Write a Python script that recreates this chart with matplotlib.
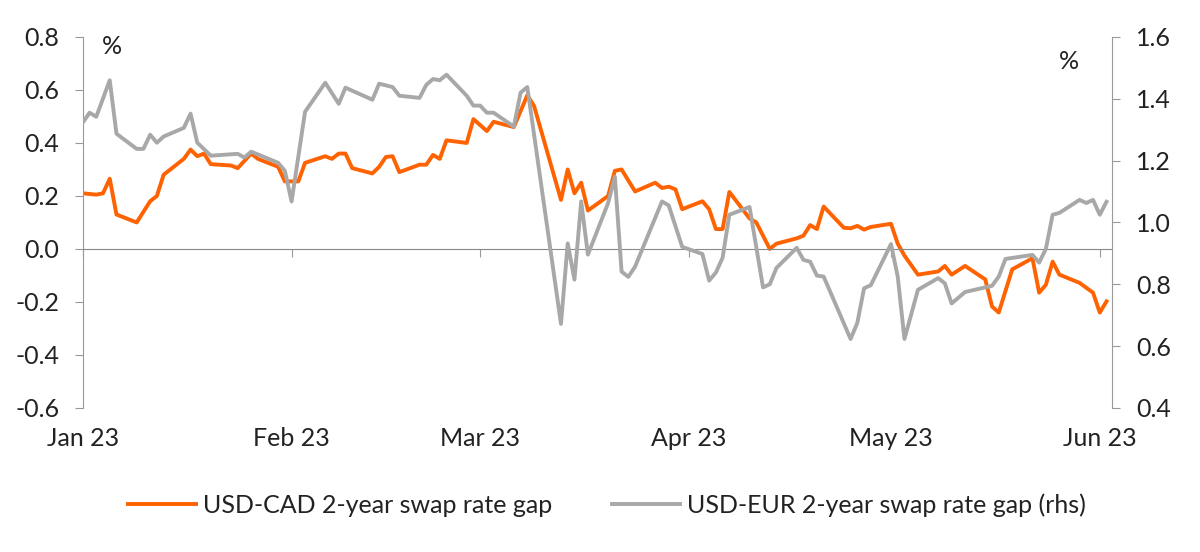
import pandas as pd
import matplotlib.pyplot as plt
import matplotlib.dates as mdates

# USD-CAD 2y swap gap (lhs)
cad_dates = ["2023-01-01", "2023-01-03", "2023-01-04", "2023-01-05", "2023-01-06", "2023-01-09",
             "2023-01-11", "2023-01-12", "2023-01-13", "2023-01-16", "2023-01-17", "2023-01-18",
             "2023-01-19", "2023-01-20", "2023-01-23", "2023-01-24", "2023-01-26", "2023-01-27",
             "2023-01-30", "2023-01-31", "2023-02-02", "2023-02-03", "2023-02-06", "2023-02-07",
             "2023-02-08", "2023-02-09", "2023-02-10", "2023-02-13", "2023-02-14", "2023-02-15",
             "2023-02-16", "2023-02-17", "2023-02-20", "2023-02-21", "2023-02-22", "2023-02-23",
             "2023-02-24", "2023-02-27", "2023-02-28", "2023-03-02", "2023-03-03", "2023-03-06",
             "2023-03-08", "2023-03-09", "2023-03-13", "2023-03-14", "2023-03-15", "2023-03-16",
             "2023-03-17", "2023-03-20", "2023-03-21", "2023-03-22", "2023-03-24", "2023-03-27",
             "2023-03-28", "2023-03-29", "2023-03-30", "2023-03-31", "2023-04-03", "2023-04-04",
             "2023-04-05", "2023-04-06", "2023-04-07", "2023-04-10", "2023-04-11", "2023-04-13",
             "2023-04-14", "2023-04-17", "2023-04-18", "2023-04-19", "2023-04-20", "2023-04-21",
             "2023-04-24", "2023-04-25", "2023-04-26", "2023-04-27", "2023-04-28", "2023-05-01",
             "2023-05-02", "2023-05-03", "2023-05-05", "2023-05-08", "2023-05-09", "2023-05-10",
             "2023-05-12", "2023-05-15", "2023-05-16", "2023-05-17", "2023-05-19", "2023-05-22",
             "2023-05-23", "2023-05-24", "2023-05-25", "2023-05-26", "2023-05-29", "2023-05-31",
             "2023-06-01", "2023-06-02"]
cad_gap = [0.21, 0.205, 0.21, 0.265, 0.13, 0.10,
           0.18, 0.20, 0.28, 0.34, 0.375, 0.35,
           0.36, 0.32, 0.315, 0.305, 0.36, 0.34,
           0.31, 0.255, 0.255, 0.325, 0.35, 0.34,
           0.36, 0.36, 0.305, 0.285, 0.31, 0.347,
           0.35, 0.29, 0.318, 0.318, 0.355, 0.34,
           0.41, 0.40, 0.49, 0.445, 0.48, 0.46,
           0.58, 0.54, 0.185, 0.30, 0.21, 0.25,
           0.145, 0.20, 0.295, 0.30, 0.217, 0.25,
           0.23, 0.235, 0.225, 0.15, 0.18, 0.15,
           0.075, 0.075, 0.215, 0.115, 0.10, 0.0,
           0.02, 0.04, 0.05, 0.09, 0.075, 0.16,
           0.08, 0.078, 0.087, 0.073, 0.083, 0.095,
           0.02, -0.025, -0.097, -0.085, -0.064, -0.097,
           -0.064, -0.115, -0.217, -0.24, -0.077, -0.035,
           -0.165, -0.135, -0.048, -0.097, -0.128, -0.165,
           -0.24, -0.198]

# USD-EUR 2y swap gap (rhs)
eur_dates = ["2023-01-01", "2023-01-02", "2023-01-03", "2023-01-05", "2023-01-06", "2023-01-09",
             "2023-01-10", "2023-01-11", "2023-01-12", "2023-01-13", "2023-01-16", "2023-01-17",
             "2023-01-18", "2023-01-20", "2023-01-24", "2023-01-25", "2023-01-26", "2023-01-30",
             "2023-01-31", "2023-02-01", "2023-02-03", "2023-02-06", "2023-02-08", "2023-02-09",
             "2023-02-13", "2023-02-14", "2023-02-16", "2023-02-17", "2023-02-20", "2023-02-21",
             "2023-02-22", "2023-02-23", "2023-02-24", "2023-02-27", "2023-02-28", "2023-03-01",
             "2023-03-02", "2023-03-03", "2023-03-06", "2023-03-07", "2023-03-08", "2023-03-13",
             "2023-03-14", "2023-03-15", "2023-03-16", "2023-03-17", "2023-03-20", "2023-03-21",
             "2023-03-22", "2023-03-23", "2023-03-24", "2023-03-28", "2023-03-29", "2023-03-31",
             "2023-04-03", "2023-04-04", "2023-04-05", "2023-04-06", "2023-04-07", "2023-04-10",
             "2023-04-12", "2023-04-13", "2023-04-14", "2023-04-17", "2023-04-18", "2023-04-19",
             "2023-04-20", "2023-04-21", "2023-04-25", "2023-04-26", "2023-04-27", "2023-04-28",
             "2023-05-01", "2023-05-02", "2023-05-03", "2023-05-05", "2023-05-08", "2023-05-09",
             "2023-05-10", "2023-05-12", "2023-05-16", "2023-05-17", "2023-05-18", "2023-05-22",
             "2023-05-23", "2023-05-24", "2023-05-25", "2023-05-26", "2023-05-29", "2023-05-30",
             "2023-05-31", "2023-06-01", "2023-06-02"]
eur_gap = [1.323, 1.355, 1.342, 1.46, 1.287, 1.238,
           1.238, 1.284, 1.258, 1.278, 1.306, 1.352,
           1.258, 1.216, 1.222, 1.21, 1.229, 1.193,
           1.167, 1.068, 1.358, 1.452, 1.384, 1.436,
           1.397, 1.449, 1.438, 1.41, 1.403, 1.445,
           1.464, 1.46, 1.478, 1.41, 1.378, 1.378,
           1.355, 1.355, 1.31, 1.42, 1.438, 0.672,
           0.932, 0.815, 1.068, 0.896, 1.063, 1.148,
           0.841, 0.824, 0.857, 1.068, 1.055, 0.921,
           0.898, 0.812, 0.838, 0.886, 1.025, 1.05,
           0.79, 0.80, 0.853, 0.918, 0.879, 0.873,
           0.828, 0.825, 0.623, 0.675, 0.787, 0.797,
           0.93, 0.825, 0.623, 0.782, 0.82, 0.803,
           0.738, 0.775, 0.795, 0.825, 0.882, 0.895,
           0.87, 0.915, 1.025, 1.031, 1.073, 1.063,
           1.073, 1.025, 1.067]

ORANGE = "#FF6200"
GREY = "#A8A8A8"
FS = 18
plt.rcParams["font.family"] = ["Lato", "DejaVu Sans"]

fig, ax = plt.subplots(figsize=(12, 5.52), dpi=100)
fig.subplots_adjust(left=0.069, right=0.927, top=0.933, bottom=0.261)
ax2 = ax.twinx()

ax.plot(pd.to_datetime(cad_dates), cad_gap, color=ORANGE, lw=2.8,
        label="USD-CAD 2-year swap rate gap")
ax2.plot(pd.to_datetime(eur_dates), eur_gap, color=GREY, lw=2.8,
         label="USD-EUR 2-year swap rate gap (rhs)")

ax.set_ylim(-0.6, 0.8)
ax2.set_ylim(0.4, 1.6)
ax.set_xlim(pd.Timestamp("2023-01-01"), pd.Timestamp("2023-06-02 21:00"))
ax.set_yticks([-0.6, -0.4, -0.2, 0.0, 0.2, 0.4, 0.6, 0.8])
ax2.set_yticks([0.4, 0.6, 0.8, 1.0, 1.2, 1.4, 1.6])
ax.yaxis.set_major_formatter(plt.FormatStrFormatter("%.1f"))
ax2.yaxis.set_major_formatter(plt.FormatStrFormatter("%.1f"))

ax.xaxis.set_major_locator(mdates.MonthLocator())
ax.xaxis.set_major_formatter(mdates.DateFormatter("%b %y"))

for a in (ax, ax2):
    a.spines["top"].set_visible(False)
    for s in ("left", "right", "bottom"):
        a.spines[s].set_color("#999999")
ax2.spines["bottom"].set_visible(False)
ax2.spines["left"].set_visible(False)
ax.spines["right"].set_visible(False)
ax.spines["bottom"].set_position(("data", 0))
ax.spines["bottom"].set_color("#888888")

ax.tick_params(axis="y", length=6, color="#999999", labelsize=FS, labelcolor="#222222", pad=11)
ax2.tick_params(axis="y", length=6, color="#999999", labelsize=FS, labelcolor="#222222", pad=11)
ax.tick_params(axis="x", length=6, color="#999999", labelsize=FS, labelcolor="#222222", pad=122)

ax.text(0.019, 1.006, "%", transform=ax.transAxes, fontsize=FS, color="#222222", va="top")
ax2.text(0.948, 0.966, "%", transform=ax2.transAxes, fontsize=FS, color="#222222", va="top")

ax2.set_zorder(ax.get_zorder() + 1)
ax2.patch.set_visible(False)

h1, l1 = ax.get_legend_handles_labels()
h2, l2 = ax2.get_legend_handles_labels()
fig.legend(h1 + h2, l1 + l2, loc="center", bbox_to_anchor=(0.506, 0.085), ncol=2,
           frameon=False, fontsize=FS, handlelength=2.7, handletextpad=0.3,
           columnspacing=2.4, labelcolor="#222222")

fig.savefig("out.png", dpi=100)
